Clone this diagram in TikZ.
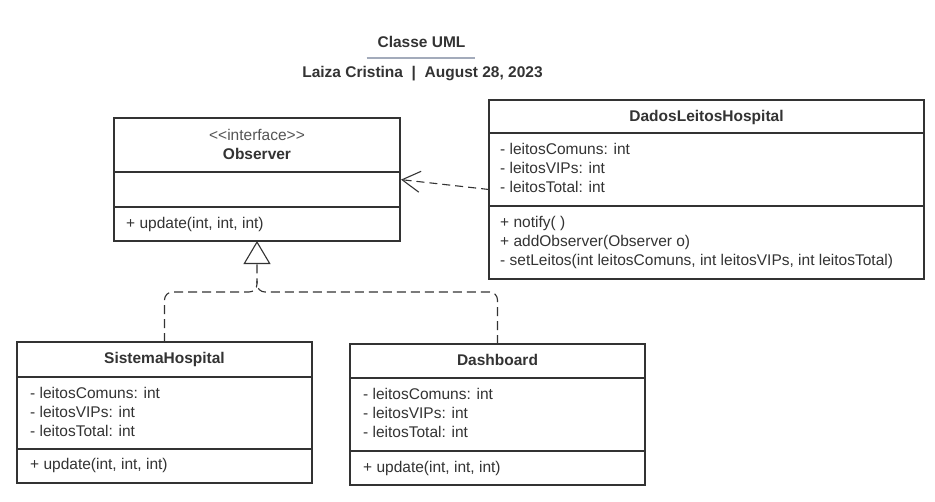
\documentclass[tikz,border=0pt]{standalone}
\usepackage{fontspec}
\setmainfont{Liberation Sans}
\usetikzlibrary{positioning, arrows.meta, calc}
\definecolor{ink}{HTML}{333333}
\definecolor{stereoink}{HTML}{555555}
\definecolor{titlerule}{HTML}{A3ABBB}

\begin{document}
\begin{tikzpicture}[
  x=1pt, y=-1pt,
  font=\fontsize{15.5}{19}\selectfont,
  umlclass/.style={draw=ink, line width=1.8pt, fill=white, inner sep=0pt, outer sep=0pt},
  sepline/.style={draw=ink, line width=1.6pt},
  classname/.style={font=\fontsize{15.5}{19}\selectfont\bfseries, text=ink, inner sep=0pt, anchor=base},
  stereo/.style={text=stereoink, inner sep=0pt, anchor=base},
  member/.style={text=ink, inner sep=0pt, anchor=base west},
  depend/.style={draw=ink, line width=1.1pt, dash pattern=on 8pt off 5pt,
    -{Straight Barb[length=18pt,width=21pt]}, shorten >=1pt},
  realize/.style={draw=ink, line width=1.1pt, dash pattern=on 9pt off 5pt, rounded corners=8pt}
]
\useasboundingbox (0,0) rectangle (935,501);

% heading
\node[classname] (title) at (421.5,47) {Classe UML};
\draw[titlerule, line width=2pt] ($(title.base)+(-55,11)$) -- ($(title.base)+(53,11)$);
\node[classname] (author) at (422.5,77) {Laiza Cristina\ \ |\ \ August 28, 2023};

% interface
\node[umlclass, minimum width=286pt, minimum height=123pt] (obs) at (257,179.5) {};
\draw[sepline] (obs.west |- 0,172) -- (obs.east |- 0,172);
\draw[sepline] (obs.west |- 0,207) -- (obs.east |- 0,207);
\node[stereo] (obsstereo) at (257,140) {<{}<interface>{}>};
\node[classname] (obsname) at (257,159) {Observer};
\node[member] (obsop) at (126,228) {+ update(int, int, int)};

% subject
\node[umlclass, minimum width=435pt, minimum height=179pt] (dados) at (706.5,189.5) {};
\draw[sepline] (dados.west |- 0,133) -- (dados.east |- 0,133);
\draw[sepline] (dados.west |- 0,206) -- (dados.east |- 0,206);
\node[classname] (dadosname) at (706.5,121) {DadosLeitosHospital};
\node[member] (dadosa1) at (500,154) {- leitosComuns: int};
\node[member] (dadosa2) at (500,173) {- leitosVIPs: int};
\node[member] (dadosa3) at (500,192) {- leitosTotal: int};
\node[member] (dadosop1) at (500,227) {+ notify( )};
\node[member] (dadosop2) at (500,246) {+ addObserver(Observer o)};
\node[member] (dadosop3) at (500,265) {- setLeitos(int leitosComuns, int leitosVIPs, int leitosTotal)};

% observers
\node[umlclass, minimum width=295pt, minimum height=141pt] (sys) at (164.5,412.5) {};
\draw[sepline] (sys.west |- 0,377) -- (sys.east |- 0,377);
\draw[sepline] (sys.west |- 0,449) -- (sys.east |- 0,449);
\node[classname] (sysname) at (164.5,363) {SistemaHospital};
\node[member] (sysa1) at (30,398) {- leitosComuns: int};
\node[member] (sysa2) at (30,417) {- leitosVIPs: int};
\node[member] (sysa3) at (30,436) {- leitosTotal: int};
\node[member] (sysop) at (30,469) {+ update(int, int, int)};

\node[umlclass, minimum width=295pt, minimum height=141pt] (dash) at (497.5,414.5) {};
\draw[sepline] (dash.west |- 0,378) -- (dash.east |- 0,378);
\draw[sepline] (dash.west |- 0,451) -- (dash.east |- 0,451);
\node[classname] (dashname) at (497.5,365) {Dashboard};
\node[member] (dasha1) at (363,399) {- leitosComuns: int};
\node[member] (dasha2) at (363,418) {- leitosVIPs: int};
\node[member] (dasha3) at (363,437) {- leitosTotal: int};
\node[member] (dashop) at (363,472) {+ update(int, int, int)};

% connectors
\coordinate (fork) at (obs.south |- 0,292);
\coordinate (forkup) at (obs.south |- 0,281);
\draw[depend] (dados.west) -- (obs.east);
\draw[realize, -{Triangle[open, length=23pt, width=27pt]}] (sys.north) |- (fork) -- (obs.south);
\draw[realize] (dash.north) |- (fork) -- (forkup);
\end{tikzpicture}
\end{document}
